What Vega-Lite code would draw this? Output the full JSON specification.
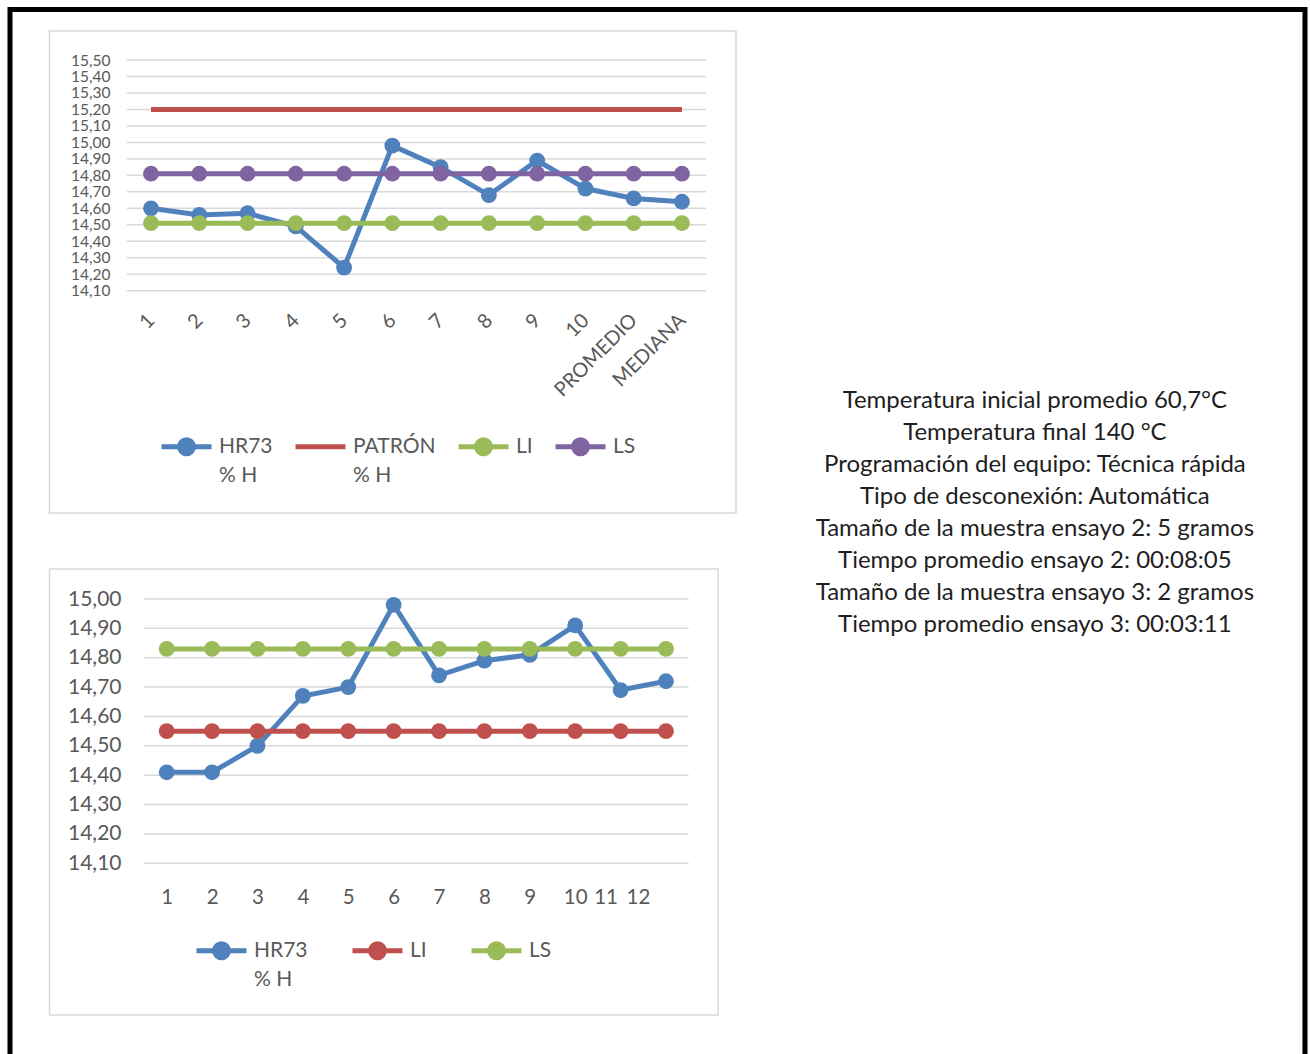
{
  "$schema": "https://vega.github.io/schema/vega-lite/v6.json",
  "width": 1310,
  "height": 1054,
  "autosize": {"type": "none"},
  "padding": 0,
  "background": "white",
  "config": {"view": {"stroke": null}},
  "datasets": {
    "top": [
      {"serie": "HR73 % H", "pos": 1, "cat": "1", "value": 14.60},
      {"serie": "HR73 % H", "pos": 2, "cat": "2", "value": 14.56},
      {"serie": "HR73 % H", "pos": 3, "cat": "3", "value": 14.57},
      {"serie": "HR73 % H", "pos": 4, "cat": "4", "value": 14.49},
      {"serie": "HR73 % H", "pos": 5, "cat": "5", "value": 14.24},
      {"serie": "HR73 % H", "pos": 6, "cat": "6", "value": 14.98},
      {"serie": "HR73 % H", "pos": 7, "cat": "7", "value": 14.85},
      {"serie": "HR73 % H", "pos": 8, "cat": "8", "value": 14.68},
      {"serie": "HR73 % H", "pos": 9, "cat": "9", "value": 14.89},
      {"serie": "HR73 % H", "pos": 10, "cat": "10", "value": 14.72},
      {"serie": "HR73 % H", "pos": 11, "cat": "PROMEDIO", "value": 14.66},
      {"serie": "HR73 % H", "pos": 12, "cat": "MEDIANA", "value": 14.64},
      {"serie": "PATRÓN % H", "pos": 1, "cat": "1", "value": 15.20},
      {"serie": "PATRÓN % H", "pos": 2, "cat": "2", "value": 15.20},
      {"serie": "PATRÓN % H", "pos": 3, "cat": "3", "value": 15.20},
      {"serie": "PATRÓN % H", "pos": 4, "cat": "4", "value": 15.20},
      {"serie": "PATRÓN % H", "pos": 5, "cat": "5", "value": 15.20},
      {"serie": "PATRÓN % H", "pos": 6, "cat": "6", "value": 15.20},
      {"serie": "PATRÓN % H", "pos": 7, "cat": "7", "value": 15.20},
      {"serie": "PATRÓN % H", "pos": 8, "cat": "8", "value": 15.20},
      {"serie": "PATRÓN % H", "pos": 9, "cat": "9", "value": 15.20},
      {"serie": "PATRÓN % H", "pos": 10, "cat": "10", "value": 15.20},
      {"serie": "PATRÓN % H", "pos": 11, "cat": "PROMEDIO", "value": 15.20},
      {"serie": "PATRÓN % H", "pos": 12, "cat": "MEDIANA", "value": 15.20},
      {"serie": "LI", "pos": 1, "cat": "1", "value": 14.51},
      {"serie": "LI", "pos": 2, "cat": "2", "value": 14.51},
      {"serie": "LI", "pos": 3, "cat": "3", "value": 14.51},
      {"serie": "LI", "pos": 4, "cat": "4", "value": 14.51},
      {"serie": "LI", "pos": 5, "cat": "5", "value": 14.51},
      {"serie": "LI", "pos": 6, "cat": "6", "value": 14.51},
      {"serie": "LI", "pos": 7, "cat": "7", "value": 14.51},
      {"serie": "LI", "pos": 8, "cat": "8", "value": 14.51},
      {"serie": "LI", "pos": 9, "cat": "9", "value": 14.51},
      {"serie": "LI", "pos": 10, "cat": "10", "value": 14.51},
      {"serie": "LI", "pos": 11, "cat": "PROMEDIO", "value": 14.51},
      {"serie": "LI", "pos": 12, "cat": "MEDIANA", "value": 14.51},
      {"serie": "LS", "pos": 1, "cat": "1", "value": 14.81},
      {"serie": "LS", "pos": 2, "cat": "2", "value": 14.81},
      {"serie": "LS", "pos": 3, "cat": "3", "value": 14.81},
      {"serie": "LS", "pos": 4, "cat": "4", "value": 14.81},
      {"serie": "LS", "pos": 5, "cat": "5", "value": 14.81},
      {"serie": "LS", "pos": 6, "cat": "6", "value": 14.81},
      {"serie": "LS", "pos": 7, "cat": "7", "value": 14.81},
      {"serie": "LS", "pos": 8, "cat": "8", "value": 14.81},
      {"serie": "LS", "pos": 9, "cat": "9", "value": 14.81},
      {"serie": "LS", "pos": 10, "cat": "10", "value": 14.81},
      {"serie": "LS", "pos": 11, "cat": "PROMEDIO", "value": 14.81},
      {"serie": "LS", "pos": 12, "cat": "MEDIANA", "value": 14.81}
    ],
    "bottom": [
      {"serie": "HR73 % H", "pos": 1, "value": 14.41},
      {"serie": "HR73 % H", "pos": 2, "value": 14.41},
      {"serie": "HR73 % H", "pos": 3, "value": 14.50},
      {"serie": "HR73 % H", "pos": 4, "value": 14.67},
      {"serie": "HR73 % H", "pos": 5, "value": 14.70},
      {"serie": "HR73 % H", "pos": 6, "value": 14.98},
      {"serie": "HR73 % H", "pos": 7, "value": 14.74},
      {"serie": "HR73 % H", "pos": 8, "value": 14.79},
      {"serie": "HR73 % H", "pos": 9, "value": 14.81},
      {"serie": "HR73 % H", "pos": 10, "value": 14.91},
      {"serie": "HR73 % H", "pos": 11, "value": 14.69},
      {"serie": "HR73 % H", "pos": 12, "value": 14.72},
      {"serie": "LI", "pos": 1, "value": 14.55},
      {"serie": "LI", "pos": 2, "value": 14.55},
      {"serie": "LI", "pos": 3, "value": 14.55},
      {"serie": "LI", "pos": 4, "value": 14.55},
      {"serie": "LI", "pos": 5, "value": 14.55},
      {"serie": "LI", "pos": 6, "value": 14.55},
      {"serie": "LI", "pos": 7, "value": 14.55},
      {"serie": "LI", "pos": 8, "value": 14.55},
      {"serie": "LI", "pos": 9, "value": 14.55},
      {"serie": "LI", "pos": 10, "value": 14.55},
      {"serie": "LI", "pos": 11, "value": 14.55},
      {"serie": "LI", "pos": 12, "value": 14.55},
      {"serie": "LS", "pos": 1, "value": 14.83},
      {"serie": "LS", "pos": 2, "value": 14.83},
      {"serie": "LS", "pos": 3, "value": 14.83},
      {"serie": "LS", "pos": 4, "value": 14.83},
      {"serie": "LS", "pos": 5, "value": 14.83},
      {"serie": "LS", "pos": 6, "value": 14.83},
      {"serie": "LS", "pos": 7, "value": 14.83},
      {"serie": "LS", "pos": 8, "value": 14.83},
      {"serie": "LS", "pos": 9, "value": 14.83},
      {"serie": "LS", "pos": 10, "value": 14.83},
      {"serie": "LS", "pos": 11, "value": 14.83},
      {"serie": "LS", "pos": 12, "value": 14.83}
    ],
    "gridTop": [
      {"value": 14.1}, {"value": 14.2}, {"value": 14.3}, {"value": 14.4}, {"value": 14.5},
      {"value": 14.6}, {"value": 14.7}, {"value": 14.8}, {"value": 14.9}, {"value": 15.0},
      {"value": 15.1}, {"value": 15.2}, {"value": 15.3}, {"value": 15.4}, {"value": 15.5}
    ],
    "gridBottom": [
      {"value": 14.1}, {"value": 14.2}, {"value": 14.3}, {"value": 14.4}, {"value": 14.5},
      {"value": 14.6}, {"value": 14.7}, {"value": 14.8}, {"value": 14.9}, {"value": 15.0}
    ],
    "notes": [
      {"line": 1, "text": "Temperatura inicial promedio 60,7°C"},
      {"line": 2, "text": "Temperatura final 140 °C"},
      {"line": 3, "text": "Programación del equipo: Técnica rápida"},
      {"line": 4, "text": "Tipo de desconexión: Automática"},
      {"line": 5, "text": "Tamaño de la muestra ensayo 2: 5 gramos"},
      {"line": 6, "text": "Tiempo promedio ensayo 2: 00:08:05"},
      {"line": 7, "text": "Tamaño de la muestra ensayo 3: 2 gramos"},
      {"line": 8, "text": "Tiempo promedio ensayo 3: 00:03:11"}
    ]
  },
  "layer": [
    {
      "data": {"values": [{"part": "border"}]},
      "mark": {"type": "rect", "filled": false, "strokeWidth": 5, "color": "#000000"},
      "encoding": {
        "x": {"datum": -1.921, "type": "quantitative", "scale": {"domain": [-2.1282, 25.011], "nice": false, "zero": false}, "axis": null},
        "x2": {"datum": 24.907},
        "y": {"datum": 15.8065, "type": "quantitative", "scale": {"domain": [9.4685, 15.8641], "nice": false, "zero": false}, "axis": null},
        "y2": {"datum": 9.3714}
      }
    },
    {
      "data": {"values": [{"part": "frame"}]},
      "mark": {"type": "rect", "filled": false, "strokeWidth": 1.5, "color": "#D9D9D9"},
      "encoding": {
        "x": {"datum": -1.1027, "type": "quantitative", "scale": {"domain": [-2.1282, 25.011], "nice": false, "zero": false}, "axis": null},
        "x2": {"datum": 13.1194},
        "y": {"datum": 15.676, "type": "quantitative", "scale": {"domain": [9.4685, 15.8641], "nice": false, "zero": false}, "axis": null},
        "y2": {"datum": 12.7512}
      }
    },
    {
      "data": {"name": "gridTop"},
      "mark": {"type": "rule", "strokeWidth": 1.5, "color": "#D9D9D9"},
      "encoding": {
        "x": {"datum": 0.5, "type": "quantitative", "scale": {"domain": [-2.1282, 25.011], "nice": false, "zero": false}, "axis": null},
        "x2": {"datum": 12.5},
        "y": {"field": "value", "type": "quantitative", "scale": {"domain": [9.4685, 15.8641], "nice": false, "zero": false}, "axis": null}
      }
    },
    {
      "data": {"name": "top"},
      "transform": [{"filter": "datum.serie == 'HR73 % H'"}],
      "mark": {"type": "line", "strokeWidth": 5, "point": {"filled": true, "size": 250, "opacity": 1}},
      "encoding": {
        "x": {
          "field": "pos", "type": "quantitative", "title": null,
          "scale": {"domain": [-2.1282, 25.011], "nice": false, "zero": false},
          "axis": {
            "orient": "bottom", "values": [1, 2, 3, 4, 5, 6, 7, 8, 9, 10, 11, 12],
            "labelExpr": "datum.value == 11 ? 'PROMEDIO' : datum.value == 12 ? 'MEDIANA' : datum.label",
            "format": "d",
            "labelAngle": -45, "labelAlign": "right", "labelBaseline": "middle",
            "offset": -763, "labelPadding": 26, "ticks": false,
            "domain": false, "grid": false, "labelFlush": false, "labelOverlap": false,
            "labelFont": "Lato", "labelFontSize": 20, "labelColor": "#595959", "labelLimit": 300
          }
        },
        "y": {
          "field": "value", "type": "quantitative", "title": null,
          "scale": {"domain": [9.4685, 15.8641], "nice": false, "zero": false},
          "axis": {
            "orient": "left",
            "values": [14.1, 14.2, 14.3, 14.4, 14.5, 14.6, 14.7, 14.8, 14.9, 15.0, 15.1, 15.2, 15.3, 15.4, 15.5],
            "labelExpr": "replace(format(datum.value, '.2f'), '.', ',')",
            "offset": -112, "labelPadding": 2, "ticks": false,
            "domain": false, "grid": false, "labelFlush": false, "labelOverlap": false,
            "labelBaseline": "middle",
            "labelFont": "Lato", "labelFontSize": 15.5, "labelColor": "#595959"
          }
        },
        "color": {
          "field": "serie", "type": "nominal",
          "scale": {"domain": ["HR73 % H", "PATRÓN % H", "LI", "LS"], "range": ["#4F81BD", "#C0504D", "#9BBB59", "#8064A2"]},
          "legend": {
            "orient": "none", "legendX": 159, "legendY": 434, "direction": "horizontal", "columns": 4,
            "columnPadding": 12, "title": null, "symbolSize": 400, "symbolStrokeWidth": 5,
            "labelOffset": 35, "labelFont": "Lato", "labelFontSize": 21, "labelColor": "#595959", "labelLimit": 300,
            "labelExpr": "datum.label == 'HR73 % H' ? ['HR73', '% H'] : datum.label == 'PATRÓN % H' ? ['PATRÓN', '% H'] : [datum.label, '']",
            "encode": {
              "symbols": {"update": {
                "shape": {"signal": "datum.value == 'PATRÓN % H' ? 'M-1,0L4,0' : 'M-1,0L4,0M2.2,0A0.7,0.7 0 1,1 0.8,0A0.7,0.7 0 1,1 2.2,0Z'"},
                "fill": {"signal": "datum.value == 'HR73 % H' ? '#4F81BD' : datum.value == 'PATRÓN % H' ? '#C0504D' : datum.value == 'LI' ? '#9BBB59' : '#8064A2'"},
                "stroke": {"signal": "datum.value == 'HR73 % H' ? '#4F81BD' : datum.value == 'PATRÓN % H' ? '#C0504D' : datum.value == 'LI' ? '#9BBB59' : '#8064A2'"},
                "strokeWidth": {"value": 5},
                "opacity": {"value": 1}
              }},
              "labels": {"update": {"lineHeight": {"value": 29}}}
            }
          }
        }
      }
    },
    {
      "data": {"name": "top"},
      "transform": [{"filter": "datum.serie == 'PATRÓN % H'"}],
      "mark": {"type": "line", "strokeWidth": 5},
      "encoding": {
        "x": {"field": "pos", "type": "quantitative", "scale": {"domain": [-2.1282, 25.011], "nice": false, "zero": false}, "axis": null},
        "y": {"field": "value", "type": "quantitative", "scale": {"domain": [9.4685, 15.8641], "nice": false, "zero": false}, "axis": null},
        "color": {"field": "serie", "type": "nominal", "scale": {"domain": ["HR73 % H", "PATRÓN % H", "LI", "LS"], "range": ["#4F81BD", "#C0504D", "#9BBB59", "#8064A2"]}, "legend": null}
      }
    },
    {
      "data": {"name": "top"},
      "transform": [{"filter": "datum.serie == 'LI'"}],
      "mark": {"type": "line", "strokeWidth": 5, "point": {"filled": true, "size": 250, "opacity": 1}},
      "encoding": {
        "x": {"field": "pos", "type": "quantitative", "scale": {"domain": [-2.1282, 25.011], "nice": false, "zero": false}, "axis": null},
        "y": {"field": "value", "type": "quantitative", "scale": {"domain": [9.4685, 15.8641], "nice": false, "zero": false}, "axis": null},
        "color": {"field": "serie", "type": "nominal", "scale": {"domain": ["HR73 % H", "PATRÓN % H", "LI", "LS"], "range": ["#4F81BD", "#C0504D", "#9BBB59", "#8064A2"]}, "legend": null}
      }
    },
    {
      "data": {"name": "top"},
      "transform": [{"filter": "datum.serie == 'LS'"}],
      "mark": {"type": "line", "strokeWidth": 5, "point": {"filled": true, "size": 250, "opacity": 1}},
      "encoding": {
        "x": {"field": "pos", "type": "quantitative", "scale": {"domain": [-2.1282, 25.011], "nice": false, "zero": false}, "axis": null},
        "y": {"field": "value", "type": "quantitative", "scale": {"domain": [9.4685, 15.8641], "nice": false, "zero": false}, "axis": null},
        "color": {"field": "serie", "type": "nominal", "scale": {"domain": ["HR73 % H", "PATRÓN % H", "LI", "LS"], "range": ["#4F81BD", "#C0504D", "#9BBB59", "#8064A2"]}, "legend": null}
      }
    },
    {
      "data": {"values": [{"part": "frame"}]},
      "mark": {"type": "rect", "filled": false, "strokeWidth": 1.5, "color": "#D9D9D9"},
      "encoding": {
        "x": {"datum": -1.582, "type": "quantitative", "scale": {"domain": [-2.6726, 26.189], "nice": false, "zero": false}, "axis": null},
        "x2": {"datum": 13.146},
        "y": {"datum": 15.1021, "type": "quantitative", "scale": {"domain": [13.4508, 17.0395], "nice": false, "zero": false}, "axis": null},
        "y2": {"datum": 13.5836}
      }
    },
    {
      "data": {"name": "gridBottom"},
      "mark": {"type": "rule", "strokeWidth": 1.5, "color": "#D9D9D9"},
      "encoding": {
        "x": {"datum": 0.5, "type": "quantitative", "scale": {"domain": [-2.6726, 26.189], "nice": false, "zero": false}, "axis": null},
        "x2": {"datum": 12.5},
        "y": {"field": "value", "type": "quantitative", "scale": {"domain": [13.4508, 17.0395], "nice": false, "zero": false}, "axis": null}
      }
    },
    {
      "data": {"name": "bottom"},
      "transform": [{"filter": "datum.serie == 'HR73 % H'"}],
      "mark": {"type": "line", "strokeWidth": 5, "point": {"filled": true, "size": 250, "opacity": 1}},
      "encoding": {
        "x": {
          "field": "pos", "type": "quantitative", "title": null,
          "scale": {"domain": [-2.6726, 26.189], "nice": false, "zero": false},
          "axis": {
            "orient": "bottom", "values": [1, 2, 3, 4, 5, 6, 7, 8, 9, 10, 11, 12],
            "format": "d",
            "offset": -191, "labelPadding": 24, "ticks": false,
            "domain": false, "grid": false, "labelFlush": false, "labelOverlap": false,
            "labelBaseline": "top",
            "labelOffset": {"condition": [{"test": "datum.value == 11", "value": -15}, {"test": "datum.value == 12", "value": -28}], "value": 0},
            "labelFont": "Lato", "labelFontSize": 20.5, "labelColor": "#595959"
          }
        },
        "y": {
          "field": "value", "type": "quantitative", "title": null,
          "scale": {"domain": [13.4508, 17.0395], "nice": false, "zero": false},
          "axis": {
            "orient": "left",
            "values": [14.1, 14.2, 14.3, 14.4, 14.5, 14.6, 14.7, 14.8, 14.9, 15.0],
            "labelExpr": "replace(format(datum.value, '.2f'), '.', ',')",
            "offset": -123, "labelPadding": 2, "ticks": false,
            "domain": false, "grid": false, "labelFlush": false, "labelOverlap": false,
            "labelBaseline": "middle",
            "labelFont": "Lato", "labelFontSize": 21, "labelColor": "#595959"
          }
        },
        "color": {
          "field": "serie", "type": "nominal",
          "scale": {"domain": ["HR73 % H", "LI", "LS"], "range": ["#4F81BD", "#C0504D", "#9BBB59"]},
          "legend": {
            "orient": "none", "legendX": 194, "legendY": 938, "direction": "horizontal", "columns": 3,
            "columnPadding": 34, "title": null, "symbolSize": 400, "symbolStrokeWidth": 5,
            "labelOffset": 35, "labelFont": "Lato", "labelFontSize": 21, "labelColor": "#595959", "labelLimit": 300,
            "labelExpr": "datum.label == 'HR73 % H' ? ['HR73', '% H'] : [datum.label, '']",
            "encode": {
              "symbols": {"update": {
                "shape": {"value": "M-1,0L4,0M2.2,0A0.7,0.7 0 1,1 0.8,0A0.7,0.7 0 1,1 2.2,0Z"},
                "fill": {"signal": "datum.value == 'HR73 % H' ? '#4F81BD' : datum.value == 'LI' ? '#C0504D' : '#9BBB59'"},
                "stroke": {"signal": "datum.value == 'HR73 % H' ? '#4F81BD' : datum.value == 'LI' ? '#C0504D' : '#9BBB59'"},
                "strokeWidth": {"value": 5},
                "opacity": {"value": 1}
              }},
              "labels": {"update": {"lineHeight": {"value": 29}}}
            }
          }
        }
      }
    },
    {
      "data": {"name": "bottom"},
      "transform": [{"filter": "datum.serie == 'LI'"}],
      "mark": {"type": "line", "strokeWidth": 5, "point": {"filled": true, "size": 250, "opacity": 1}},
      "encoding": {
        "x": {"field": "pos", "type": "quantitative", "scale": {"domain": [-2.6726, 26.189], "nice": false, "zero": false}, "axis": null},
        "y": {"field": "value", "type": "quantitative", "scale": {"domain": [13.4508, 17.0395], "nice": false, "zero": false}, "axis": null},
        "color": {"field": "serie", "type": "nominal", "scale": {"domain": ["HR73 % H", "LI", "LS"], "range": ["#4F81BD", "#C0504D", "#9BBB59"]}, "legend": null}
      }
    },
    {
      "data": {"name": "bottom"},
      "transform": [{"filter": "datum.serie == 'LS'"}],
      "mark": {"type": "line", "strokeWidth": 5, "point": {"filled": true, "size": 250, "opacity": 1}},
      "encoding": {
        "x": {"field": "pos", "type": "quantitative", "scale": {"domain": [-2.6726, 26.189], "nice": false, "zero": false}, "axis": null},
        "y": {"field": "value", "type": "quantitative", "scale": {"domain": [13.4508, 17.0395], "nice": false, "zero": false}, "axis": null},
        "color": {"field": "serie", "type": "nominal", "scale": {"domain": ["HR73 % H", "LI", "LS"], "range": ["#4F81BD", "#C0504D", "#9BBB59"]}, "legend": null}
      }
    },
    {
      "data": {"name": "notes"},
      "mark": {"type": "text", "font": "Lato", "fontSize": 24, "color": "#1E1E1E", "align": "center", "baseline": "middle"},
      "encoding": {
        "x": {"datum": 0.79, "type": "quantitative", "scale": {"domain": [0, 1], "nice": false, "zero": false}, "axis": null},
        "y": {"field": "line", "type": "quantitative", "scale": {"domain": [-11.53125, 21.40625], "reverse": true, "nice": false, "zero": false}, "axis": null},
        "text": {"field": "text"}
      }
    }
  ],
  "resolve": {"scale": {"x": "independent", "y": "independent", "color": "independent"}}
}
